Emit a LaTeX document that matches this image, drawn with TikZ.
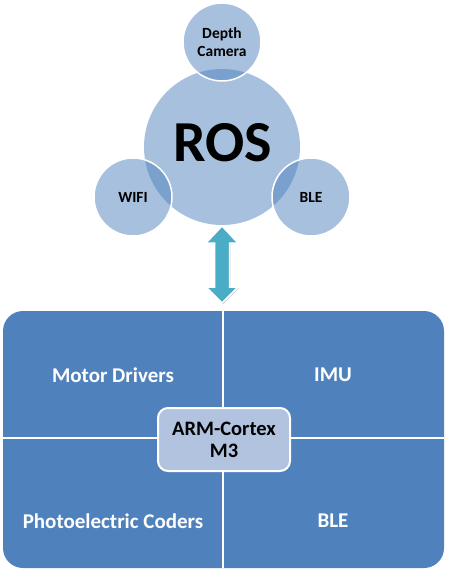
\documentclass[tikz,border=0pt]{standalone}
\usepackage{fontspec}
\setmainfont{Carlito}
\usetikzlibrary{shadows}
\definecolor{accent}{HTML}{4F81BD}
\definecolor{teal}{HTML}{4BACC6}
\definecolor{corebox}{HTML}{B1C3DF}
\tikzset{
  bubble/.style={circle, fill=accent, fill opacity=0.5, text opacity=1, inner sep=0pt, font=\bfseries\fontsize{15.5}{18}\selectfont, align=center},
  sat/.style={bubble, draw=white, line width=1.5pt, minimum size=78pt},
  quad/.style={text=white, font=\bfseries\fontsize{21}{22}\selectfont},
  core/.style={draw=white, line width=2pt, fill=corebox, rounded corners=10pt, minimum width=132pt, minimum height=63pt, align=center, font=\bfseries\fontsize{20.5}{22}\selectfont}
}
\begin{document}
\begin{tikzpicture}[x=1pt,y=-1pt]
\useasboundingbox (0,0) rectangle (449,571);
% top cluster
\node[bubble, minimum size=156pt] (ros) at (222,147) {};
\node[font=\bfseries\fontsize{58}{60}\selectfont] (rost) at (223,143) {ROS};
\node[sat] (dc) at (222,42) {Depth\\Camera};
\node[sat] (wifi) at (133,197) {WIFI};
\node[sat] (ble1) at (311,197) {BLE};
% bottom panel
\coordinate (pTL) at (3,311);
\coordinate (pBR) at (444,568);
\fill[accent, rounded corners=20pt] (pTL) rectangle (pBR);
\coordinate (vT) at (223,311);
\coordinate (vB) at (223,568);
\coordinate (hL) at (3,438);
\coordinate (hR) at (444,438);
\draw[white, line width=2pt] (vT) -- (vB);
\draw[white, line width=2pt] (hL) -- (hR);
\node[quad] (motor) at (113,375) {Motor Drivers};
\node[quad] (imu) at (333,375) {IMU};
\node[quad] (photo) at (113,521) {Photoelectric Coders};
\node[quad] (ble2) at (333,521) {BLE};
\node[core] (arm) at (224,439.5) {ARM-Cortex\\M3};
% double arrow between ROS and panel
\coordinate (aT) at (222,226);
\coordinate (aB) at (222,303);
\draw[fill=teal, draw=white, line width=1.5pt, line join=miter,
      drop shadow={shadow xshift=1.2pt, shadow yshift=-1.2pt, opacity=0.35}]
  (aT) -- ++(16,17) -- ++(-8.5,0) -- ++(0,44) -- ++(8.5,0) -- (aB)
  -- ++(-16,-16) -- ++(8.5,0) -- ++(0,-44) -- ++(-8.5,0) -- cycle;
\end{tikzpicture}
\end{document}
